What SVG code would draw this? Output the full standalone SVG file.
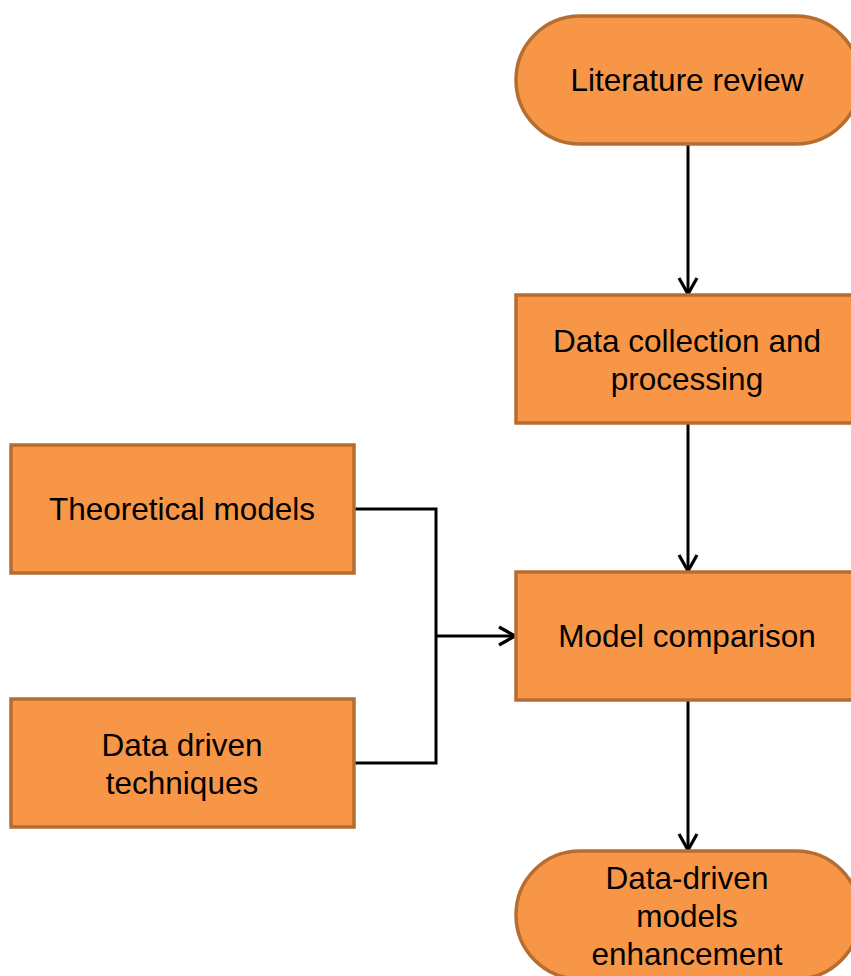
<svg xmlns="http://www.w3.org/2000/svg" width="851" height="976" viewBox="0 0 851 976">
<defs>
<style>
.node{fill:#f79646;stroke:#b66d31;stroke-width:3.5}
.t{font-family:"Liberation Sans",Arial,sans-serif;font-size:31.5px;fill:#000;text-anchor:middle}
.c{fill:none;stroke:#000;stroke-width:3}
</style>
<marker id="arr" viewBox="0 0 24 24" refX="21" refY="12" markerWidth="24" markerHeight="24" markerUnits="userSpaceOnUse" orient="auto">
<path d="M5,3 L21,12 L5,21" fill="none" stroke="#000" stroke-width="3.2"/>
</marker>
</defs>
<rect width="851" height="976" fill="#fff"/>
<g id="connectors">
<line class="c" x1="688" y1="145" x2="688" y2="294" marker-end="url(#arr)"/>
<line class="c" x1="688" y1="424" x2="688" y2="571" marker-end="url(#arr)"/>
<line class="c" x1="688" y1="701" x2="688" y2="850" marker-end="url(#arr)"/>
<polyline class="c" points="355,509 436,509 436,763 355,763"/>
<line class="c" x1="436" y1="636" x2="515" y2="636" marker-end="url(#arr)"/>
</g>
<g id="literature-review">
<rect class="node" x="516" y="16" width="344" height="128" rx="64" ry="64"/>
<text class="t" x="687" y="91">Literature review</text>
</g>
<g id="data-collection">
<rect class="node" x="516" y="295" width="344" height="128"/>
<text class="t" x="687" y="352">Data collection and</text>
<text class="t" x="687" y="390">processing</text>
</g>
<g id="model-comparison">
<rect class="node" x="516" y="572" width="344" height="128"/>
<text class="t" x="687" y="647">Model comparison</text>
</g>
<g id="data-driven-enhancement">
<rect class="node" x="516" y="851" width="344" height="128" rx="64" ry="64"/>
<text class="t" x="687" y="889">Data-driven</text>
<text class="t" x="687" y="927">models</text>
<text class="t" x="687" y="965">enhancement</text>
</g>
<g id="theoretical-models">
<rect class="node" x="11" y="445" width="343" height="128"/>
<text class="t" x="182" y="520">Theoretical models</text>
</g>
<g id="data-driven-techniques">
<rect class="node" x="11" y="699" width="343" height="128"/>
<text class="t" x="182" y="756">Data driven</text>
<text class="t" x="182" y="794">techniques</text>
</g>
</svg>
